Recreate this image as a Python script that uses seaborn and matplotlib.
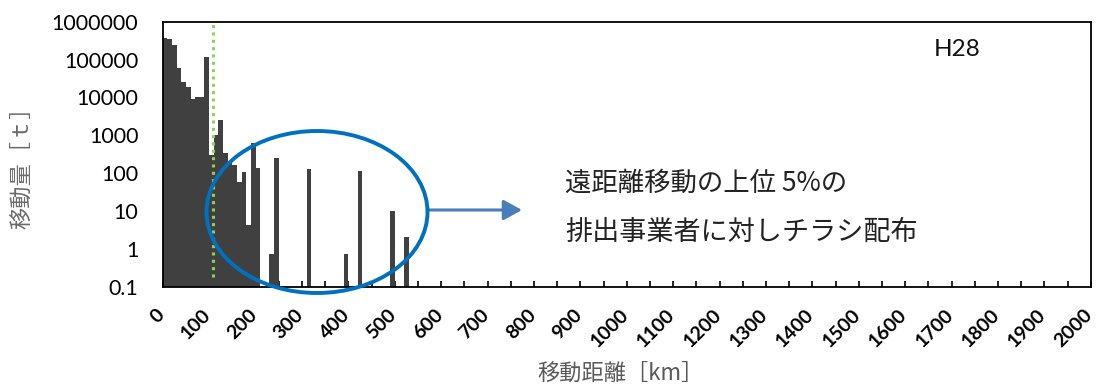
import numpy as np
import pandas as pd
import matplotlib
matplotlib.use("Agg")
import matplotlib.pyplot as plt
import matplotlib.transforms as mtransforms
import seaborn as sns
from matplotlib.patches import Ellipse, FancyArrowPatch

# ---- data ----
bin_start_km = [0, 10, 20, 30, 40, 50, 60, 70, 80, 90, 100, 110, 120, 130, 140,
                150, 160, 170, 180, 190, 200, 230, 240, 310, 390, 420, 490, 520]
tonnage_t = [360000, 350000, 240000, 59000, 26000, 19000, 9100, 10000, 10000,
             120000, 300, 1000, 2500, 330, 200, 160, 60, 110, 4.3, 620, 135,
             0.75, 250, 125, 0.74, 115, 10, 2.1]
bin_width_km = 10
x_max_km = 2000
threshold_km = 108

y_tick_values = [0.1, 1, 10, 100, 1000, 10000, 100000, 1000000]
y_tick_labels = ["0.1", "1", "10", "100", "1000", "10000", "100000", "1000000"]
x_tick_values = list(range(0, 2001, 100))
x_tick_labels = [str(v) for v in x_tick_values]
x_minor_ticks = list(range(50, 2000, 100))

year_label = "H28"
x_label = "移動距離［km］"
y_label = "移動量［ｔ］"
note_line1 = "遠距離移動の上位 5%の"
note_line2 = "排出事業者に対しチラシ配布"

df = pd.DataFrame({"center": np.array(bin_start_km) + bin_width_km / 2,
                   "t": tonnage_t})

sns.set_theme(style="white")
plt.rcParams["font.family"] = ["Lato", "Noto Sans CJK JP", "DejaVu Sans"]

W, H = 1098, 385
fig = plt.figure(figsize=(W / 100, H / 100), dpi=100)
L, R, T, B = 162.7, 1090.7, 21.7, 286.7
ax = fig.add_axes([L / W, 1 - B / H, (R - L) / W, (B - T) / H])

ax.set_yscale("log")
sns.histplot(data=df, x="center", weights="t",
             binwidth=bin_width_km, binrange=(0, x_max_km),
             color="#404040", alpha=1, linewidth=0, ax=ax)

ax.set_xlim(0, x_max_km)
ax.set_ylim(0.1, 1000000)
ax.set_yticks(y_tick_values, y_tick_labels)
ax.yaxis.set_minor_locator(matplotlib.ticker.NullLocator())
ax.set_xticks(x_tick_values, x_tick_labels)
ax.set_xticks(x_minor_ticks, minor=True)
ax.set_xlabel("")
ax.set_ylabel("")

for s in ax.spines.values():
    s.set_color("black")
    s.set_linewidth(1.3)

ax.tick_params(axis="y", which="major", direction="in", length=6.5, width=1.2,
               color="black", pad=17.5, labelsize=15.4, labelcolor="black")
ax.tick_params(axis="x", which="both", direction="in", length=4.3, width=1.2,
               color="black", pad=14, labelsize=14, labelcolor="black",
               bottom=True)
ax.tick_params(axis="x", which="minor", labelbottom=False)
shift = mtransforms.ScaledTranslation(-7 / 100, 0, fig.dpi_scale_trans)
for lab in ax.get_xticklabels():
    lab.set_rotation(45)
    lab.set_ha("right")
    lab.set_va("top")
    lab.set_rotation_mode("anchor")
    lab.set_fontweight("bold")
    lab.set_transform(lab.get_transform() + shift)

ax.axvline(threshold_km, ymin=0.035, ymax=0.99, color="#92D050", lw=2.2,
           linestyle=(0, (1, 1.4)), dash_capstyle="butt", zorder=5)

fig.text(957.5 / W, 1 - 49 / H, year_label, ha="center", va="center",
         fontsize=17.5, color="#111111")

fig.text(621 / W, 1 - 373 / H, x_label, ha="center", va="center",
         fontsize=16, color="#595959", family=["Noto Sans CJK JP", "DejaVu Sans"])
fig.text(22 / W, 1 - 162 / H, y_label, ha="center", va="center", rotation=90,
         fontsize=16, color="#6a6a6a", family=["Noto Sans CJK JP", "DejaVu Sans"])

# annotation shapes
ell = Ellipse((317 / W, 1 - 212 / H), 221 / W, 162 / H, transform=fig.transFigure,
              fill=False, edgecolor="#0070C0", lw=2.8, zorder=10)
fig.add_artist(ell)
arr = FancyArrowPatch((428 / W, 1 - 210 / H), (522 / W, 1 - 210 / H),
                      transform=fig.transFigure,
                      arrowstyle="-|>,head_length=0.8,head_width=0.44",
                      mutation_scale=14, color="#4A7EBB", lw=2.2,
                      shrinkA=0, shrinkB=0)
fig.add_artist(arr)

fig.text(565 / W, 1 - 183 / H, note_line1, ha="left", va="center",
         fontsize=19, color="#222222", family=["Noto Sans CJK JP", "DejaVu Sans"])
fig.text(565 / W, 1 - 232 / H, note_line2, ha="left", va="center",
         fontsize=19.5, color="#222222", family=["Noto Sans CJK JP", "DejaVu Sans"])

fig.savefig("out.png", dpi=100)
